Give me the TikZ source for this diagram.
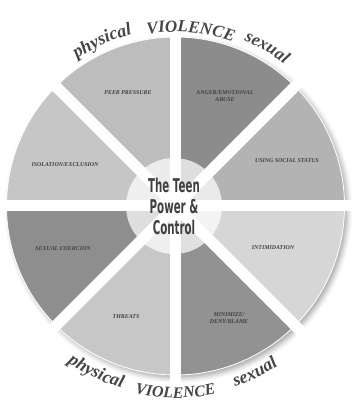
\documentclass[tikz,border=0pt]{standalone}
\usepackage{fontspec}
\setmainfont{Liberation Serif}
\newfontfamily\hubfont[FakeStretch=0.54]{DejaVu Sans}
\usetikzlibrary{decorations.text,shadows.blur}

\definecolor{peergray}{HTML}{BDBDBD}
\definecolor{angergray}{HTML}{8C8C8C}
\definecolor{socialgray}{HTML}{B3B3B3}
\definecolor{intimgray}{HTML}{D6D6D6}
\definecolor{minigray}{HTML}{929292}
\definecolor{threatgray}{HTML}{C7C7C7}
\definecolor{coercgray}{HTML}{8E8E8E}
\definecolor{isolgray}{HTML}{C6C6C6}
\definecolor{labelgray}{HTML}{404040}
\definecolor{wordgray}{HTML}{454545}
\definecolor{hubtext}{HTML}{404040}

\begin{document}
\begin{tikzpicture}[x=1pt,y=1pt,
  tactic/.style={font=\bfseries\itshape\fontsize{5.9}{7.2}\selectfont, text=labelgray, align=center, inner sep=0pt},
]
\useasboundingbox (0,0) rectangle (352,403);
\coordinate (C) at (175.5,197);

% soft shadow under the wheel
\fill[white, blur shadow={shadow xshift=3pt, shadow yshift=-3pt,
      shadow blur radius=5pt, shadow opacity=35}] (C) circle (169);

% the eight sectors
\foreach \a/\c in {0/socialgray, 45/angergray, 90/peergray, 135/isolgray,
                   180/coercgray, 225/threatgray, 270/minigray, 315/intimgray}
  \filldraw[fill=\c, draw=white, line width=0.8]
    (C) -- ++(\a:169) arc[start angle=\a, end angle=\a+45, radius=169] -- cycle;

% white gaps between sectors
\foreach \a in {0,45,90,135}
  \draw[white, line width=11] ([shift={(\a:178)}]C) -- ([shift={(\a+180:178)}]C);

% hub
\node[circle, minimum size=96, fill=white, fill opacity=0.72, text opacity=1,
      text=hubtext, align=center, font=\hubfont\bfseries\fontsize{19}{21}\selectfont]
  (hub) at ([xshift=-1.5]C) {The Teen\\Power \&\\Control};

% sector labels
\node[tactic] (peer)   at (128,310) {PEER PRESSURE};
\node[tactic] (anger)  at (225,307) {ANGER/EMOTIONAL\\ABUSE};
\node[tactic] (social) at (287,242) {USING SOCIAL STATUS};
\node[tactic] (intim)  at (273,155) {INTIMIDATION};
\node[tactic] (mini)   at (229,85)  {MINIMIZE/\\DENY/BLAME};
\node[tactic] (threat) at (126,86)  {THREATS};
\node[tactic] (coerc)  at (63,154)  {SEXUAL COERCION};
\node[tactic] (isol)   at (65,238)  {ISOLATION/EXCLUSION};

% words around the rim, top
\path[decorate, decoration={text along path, text align=center,
      text={|\bfseries\itshape\fontsize{18}{18}\selectfont\color{wordgray}|physical}}]
  ([shift={(139:177)}]C) arc[start angle=139, end angle=89, radius=177];
\path[decorate, decoration={text along path, text align=center,
      text={|\bfseries\itshape\fontsize{17}{17}\selectfont\color{wordgray}|VIOLENCE}}]
  ([shift={(120:174)}]C) arc[start angle=120, end angle=50, radius=174];
\path[decorate, decoration={text along path, text align=center,
      text={|\bfseries\itshape\fontsize{17.5}{17.5}\selectfont\color{wordgray}|sexual}}]
  ([shift={(85:179)}]C) arc[start angle=85, end angle=35, radius=179];

% words around the rim, bottom
\path[decorate, decoration={text along path, text align=center,
      text={|\bfseries\itshape\fontsize{18}{18}\selectfont\color{wordgray}|physical}}]
  ([shift={(220:190)}]C) arc[start angle=220, end angle=269, radius=190];
\path[decorate, decoration={text along path, text align=center,
      text={|\bfseries\itshape\fontsize{16}{16}\selectfont\color{wordgray}|VIOLENCE}}]
  ([shift={(240:192)}]C) arc[start angle=240, end angle=300, radius=192];
\path[decorate, decoration={text along path, text align=center,
      text={|\bfseries\itshape\fontsize{18}{18}\selectfont\color{wordgray}|sexual}}]
  ([shift={(272:190)}]C) arc[start angle=272, end angle=319, radius=190];
\end{tikzpicture}
\end{document}
